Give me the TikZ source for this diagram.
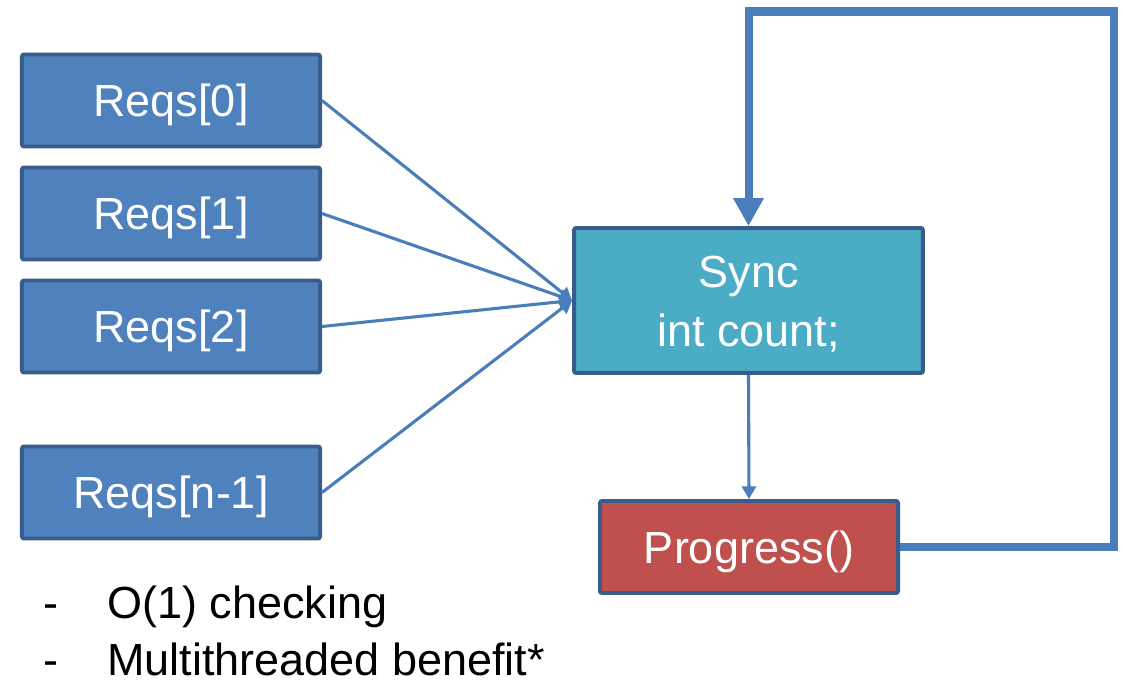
\documentclass[tikz,border=0pt]{standalone}
\usepackage{fontspec}
\setmainfont{Liberation Sans}
\usetikzlibrary{arrows.meta}
\usetikzlibrary{positioning}

\definecolor{reqblue}{HTML}{4F81BD}
\definecolor{edgeblue}{HTML}{385D8A}
\definecolor{syncteal}{HTML}{4BACC6}
\definecolor{progred}{HTML}{C0504D}
\definecolor{lineblue}{HTML}{4A7EBB}

\tikzset{
  box/.style={draw=edgeblue, line width=2.8pt, rounded corners=1.5pt, text=white,
    font=\fontsize{32}{42}\selectfont, align=center, inner sep=0pt,
    text height=22.9pt, text depth=0pt},
  req/.style={box, fill=reqblue, minimum width=7.45cm, minimum height=2.3cm},
  feed/.style={draw=lineblue, line width=2.2pt, -{Triangle[width=10pt, length=9pt]}},
  feedback/.style={draw=lineblue, line width=5.7pt, -{Triangle[width=0.72cm, length=0.7cm]}},
  bullet/.style={anchor=base west, inner sep=0pt, font=\fontsize{32}{38}\selectfont}
}

\begin{document}
\begin{tikzpicture}[x=0.025cm, y=-0.025cm]
  \useasboundingbox (0,0) rectangle (1123,685);

  \foreach \i/\y/\lbl in {0/100.5/0, 1/213.5/1, 2/326.5/2, 3/492.5/n-1}
    \node[req] (r\i) at (171, \y) {Reqs[\lbl]};

  \node[box, fill=syncteal, minimum width=8.72cm, minimum height=3.62cm, text height=64.9pt] (sync) at (748.5, 300.5) {Sync\\int count;};
  \node[box, fill=progred, minimum width=7.45cm, minimum height=2.3cm] (progress) at (749, 547) {Progress()};

  \foreach \i in {0,1,2,3}
    \draw[feed] (r\i.east) -- (sync.west);
  \draw[feed] (sync.south) -- (progress.north);

  \coordinate (corner) at (1114, 11.5);
  \draw[feedback] (progress.east) -| (corner) -| (sync.north);

  \node[bullet] (d1) at (43, 618) {-};
  \node[bullet] (t1) at (107, 618) {O(1) checking};
  \node[bullet] (d2) at (43, 675) {-};
  \node[bullet] (t2) at (107, 675) {Multithreaded benefit*};
\end{tikzpicture}
\end{document}
